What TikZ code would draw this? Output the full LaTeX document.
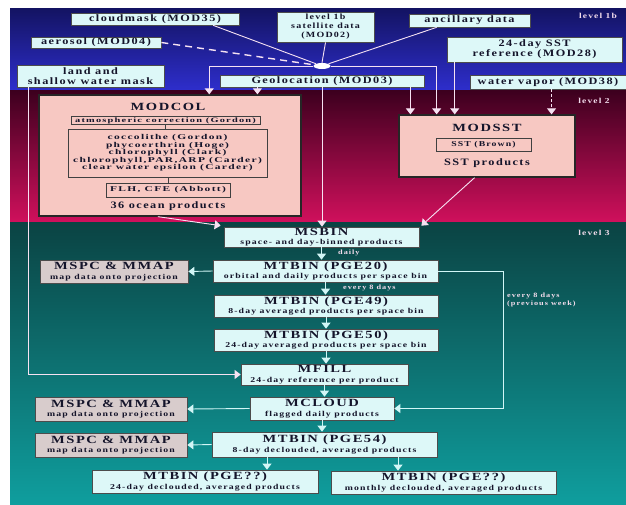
\documentclass[tikz,border=0pt]{standalone}
\usepackage{fontspec}
\setmainfont{Liberation Serif}
\newfontfamily\wideserif[FakeStretch=1.25, LetterSpace=15]{Liberation Serif}
\newfontfamily\titleserif[FakeStretch=1.32, LetterSpace=14]{Liberation Serif}
\newfontfamily\subserif[FakeStretch=1.3, LetterSpace=15]{Liberation Serif}
\newfontfamily\tinyserif[FakeStretch=1.55, LetterSpace=18]{Liberation Serif}
\usetikzlibrary{arrows.meta,calc,shapes.geometric}
\definecolor{cyanbox}{HTML}{DDF8F8}
\definecolor{pinkbox}{HTML}{F7C8C2}
\definecolor{graybox}{HTML}{D8CCCC}
\definecolor{navyT}{HTML}{131362}
\definecolor{navyB}{HTML}{2E2ECC}
\definecolor{marT}{HTML}{3C001E}
\definecolor{marB}{HTML}{D0105C}
\definecolor{tealT}{HTML}{0B4343}
\definecolor{tealB}{HTML}{0F9E9E}
\definecolor{linepink}{HTML}{F6E2F2}
\definecolor{linecyan}{HTML}{D2F6F6}
\definecolor{lvltext}{HTML}{F2DCEC}
\definecolor{boxtext}{HTML}{14142A}
\newcommand\mytitle{\titleserif\bfseries\fontsize{11}{11}\selectfont}
\newcommand\mysub{\subserif\bfseries\fontsize{7.5}{8.5}\selectfont}
\newcommand\mylvl{\wideserif\bfseries\fontsize{7.6}{8.5}\selectfont}
\newcommand\mylab{\wideserif\bfseries\fontsize{9.8}{10}\selectfont}
\newcommand\mysmall{\wideserif\bfseries\fontsize{8}{9}\selectfont}
\newcommand\mytiny{\tinyserif\bfseries\fontsize{7.4}{7.6}\selectfont}
\newcommand\myatm{\tinyserif\bfseries\fontsize{6.7}{7}\selectfont}
\newcommand\mylbl{\wideserif\bfseries\fontsize{6.6}{7.6}\selectfont}
\begin{document}
\begin{tikzpicture}[x=1pt,y=-1pt,
  cbox/.style={draw=black!70, line width=0.7pt, fill=cyanbox, inner sep=0pt, text=boxtext, align=center},
  gbox/.style={draw=black!70, line width=0.8pt, fill=graybox, inner sep=0pt, text=boxtext, align=center},
  pbox/.style={draw=black!85, line width=1.3pt, fill=pinkbox, inner sep=0pt},
  ibox/.style={draw=black!75, line width=0.6pt, inner sep=0pt, text=boxtext, align=center},
  lnP/.style={draw=linepink, line width=0.9pt},
  lnC/.style={draw=linecyan, line width=0.9pt},
  arr/.style={-{Triangle[width=9pt,length=6pt]}},
  lvl/.style={text=lvltext, font=\mylvl, inner sep=0pt},
  lbl/.style={text=lvltext, font=\mylbl, inner sep=0pt, align=left}]
\useasboundingbox (0,0) rectangle (626,504);
% background bands
\shade[top color=navyT, bottom color=navyB] (10,8) rectangle (626,90);
\shade[top color=marT, bottom color=marB] (10,90) rectangle (626,222);
\shade[top color=tealT, bottom color=tealB] (10,222) rectangle (626,504);
% level labels
\node[lvl] (lv1) at (598,16) {level 1b};
\node[lvl] (lv2) at (594,101) {level 2};
\node[lvl] (lv3) at (594,233) {level 3};
% level 1b inputs
\node[cbox, minimum width=168pt, minimum height=12pt, font=\mylab] (cloud) at (155,19) {cloudmask (MOD35)};
\node[cbox, minimum width=130pt, minimum height=11pt, font=\mylab] (aer) at (96,42.5) {aerosol (MOD04)};
\node[cbox, minimum width=97pt, minimum height=30pt, font=\mysmall] (l1b) at (325.5,27) {level 1b\\satellite data\\(MOD02)};
\node[cbox, minimum width=121pt, minimum height=13pt, font=\mylab] (anc) at (469.5,20.5) {ancillary data};
\node[cbox, minimum width=175pt, minimum height=25pt, font=\mylab] (sstref) at (534.5,49.5) {24-day SST\\reference (MOD28)};
\node[cbox, minimum width=147pt, minimum height=22pt, font=\mylab] (land) at (90.5,76) {land and\\shallow water mask};
\node[cbox, minimum width=204pt, minimum height=12pt, font=\mylab] (geo) at (322,81) {Geolocation (MOD03)};
\node[cbox, minimum width=156pt, minimum height=14pt, font=\mylab] (wv) at (548,82) {water vapor (MOD38)};
\node[ellipse, fill=white, minimum width=17pt, minimum height=6pt, inner sep=0pt] (junc) at (322,66) {};
% level 2 boxes
\node[pbox, minimum width=262pt, minimum height=121pt] (modcol) at (170,155.5) {};
\node[text=boxtext, font=\mytitle, inner sep=0pt] (modcolt) at (168,107) {MODCOL};
\node[ibox, minimum width=189pt, minimum height=8pt, font=\myatm] (atm) at (165.5,120.5) {atmospheric correction (Gordon)};
\node[ibox, minimum width=199pt, minimum height=48pt, font=\mytiny] (mid) at (167.5,153) {coccolithe (Gordon)\\phycoerthrin (Hoge)\\chlorophyll (Clark)\\chlorophyll,PAR,ARP (Carder)\\clear water epsilon (Carder)};
\node[ibox, minimum width=124pt, minimum height=14pt, font=\mytiny] (flh) at (168,190) {FLH, CFE (Abbott)};
\node[text=boxtext, font=\mylab, inner sep=0pt] (ocean) at (168,206) {36 ocean products};
\draw[black!75, line width=0.6pt] (atm.south) -- (atm.south |- mid.north);
\draw[black!75, line width=0.6pt] (flh.north |- mid.south) -- (flh.north);
\node[pbox, minimum width=176pt, minimum height=62pt] (modsst) at (487,146) {};
\node[text=boxtext, font=\mytitle, inner sep=0pt] (modsstt) at (487,128) {MODSST};
\node[ibox, minimum width=95pt, minimum height=13pt, font=\mysub] (sstb) at (483.5,144.5) {SST (Brown)};
\node[text=boxtext, font=\mylab, inner sep=0pt] (sstp) at (487,163) {SST products};
% level 3 boxes
\node[cbox, minimum width=195pt, minimum height=20pt] (msbin) at (321.5,237) {\mytitle MSBIN\\[-3pt]\mysub space- and day-binned products};
\node[cbox, minimum width=225pt, minimum height=22pt] (p20) at (325.5,271) {\mytitle MTBIN (PGE20)\\[-2.5pt]\mysub orbital and daily products per space bin};
\node[gbox, minimum width=148pt, minimum height=23pt] (mspc1) at (114,271.5) {\mytitle MSPC \& MMAP\\[-2.5pt]\mysub map data onto projection};
\node[cbox, minimum width=224pt, minimum height=22pt] (p49) at (326,306) {\mytitle MTBIN (PGE49)\\[-2.5pt]\mysub 8-day averaged products per space bin};
\node[cbox, minimum width=224pt, minimum height=22pt] (p50) at (326,340) {\mytitle MTBIN (PGE50)\\[-2.5pt]\mysub 24-day averaged products per space bin};
\node[cbox, minimum width=167pt, minimum height=21pt] (mfill) at (324.5,374.5) {\mytitle MFILL\\[-2.5pt]\mysub 24-day reference per product};
\node[cbox, minimum width=144pt, minimum height=23pt] (mcloud) at (322,408.5) {\mytitle MCLOUD\\[-2.5pt]\mysub flagged daily products};
\node[gbox, minimum width=152pt, minimum height=24pt] (mspc2) at (111,409) {\mytitle MSPC \& MMAP\\[-2.5pt]\mysub map data onto projection};
\node[cbox, minimum width=225pt, minimum height=25pt] (p54) at (324.5,444.5) {\mytitle MTBIN (PGE54)\\[-1.5pt]\mysub 8-day declouded, averaged products};
\node[gbox, minimum width=152pt, minimum height=24pt] (mspc3) at (111,445) {\mytitle MSPC \& MMAP\\[-2.5pt]\mysub map data onto projection};
\node[cbox, minimum width=226pt, minimum height=23pt] (pa) at (205,481.5) {\mytitle MTBIN (PGE??)\\[-2.5pt]\mysub 24-day declouded, averaged products};
\node[cbox, minimum width=225pt, minimum height=23pt] (pb) at (443.5,482.5) {\mytitle MTBIN (PGE??)\\[-2.5pt]\mysub monthly declouded, averaged products};
% helper coordinates on box edges
\coordinate (c1) at ($(cloud.south west)!0.845!(cloud.south east)$);
\coordinate (a1) at ($(anc.south west)!0.23!(anc.south east)$);
\coordinate (mc1) at ($(modcol.north west)!0.649!(modcol.north east)$);
\coordinate (mc2) at ($(modcol.north west)!0.832!(modcol.north east)$);
\coordinate (ms1) at ($(modsst.north west)!0.216!(modsst.north east)$);
\coordinate (ms2) at ($(modsst.north west)!0.068!(modsst.north east)$);
\coordinate (ms3) at ($(modsst.north west)!0.318!(modsst.north east)$);
\coordinate (ms4) at ($(modsst.north west)!0.864!(modsst.north east)$);
\coordinate (mcb) at ($(modcol.south west)!0.454!(modcol.south east)$);
\coordinate (msb) at ($(modsst.south west)!0.43!(modsst.south east)$);
\coordinate (lm) at ($(land.south west)!0.082!(land.south east)$);
\coordinate (loopx) at (503,0);
% level 1b / level 2 connectors
\draw[lnP] (c1) -- (junc);
\draw[lnP, line width=1.4pt, dash pattern=on 7pt off 5pt] (aer.east) -- (junc);
\draw[lnP] (l1b.south) -- (junc.north);
\draw[lnP] (a1) -- (junc);
\draw[lnP, arr] (junc.west) -| (mc1);
\draw[lnP, arr] (junc.east) -| (ms1);
\draw[lnP, arr] (mc2 |- geo.south) -- (mc2);
\draw[lnP, arr] (ms2 |- geo.south) -- (ms2);
\draw[lnP, arr] (geo.south) -- (geo.south |- msbin.north);
\draw[lnP, arr] (ms3 |- sstref.south) -- (ms3);
\draw[lnP, arr, dash pattern=on 3pt off 2pt] (ms4 |- wv.south) -- (ms4);
\draw[lnP, arr] (mcb) -- ($(msbin.north west)+(-3,-1)$);
\draw[lnP, arr] (msb) -- ($(msbin.north east)+(2,-1)$);
\draw[lnP, arr] (lm) |- (mfill.west);
% level 3 connectors
\draw[lnC, arr] (msbin.south) -- (msbin.south |- p20.north);
\draw[lnC, arr] (p20.south) -- (p20.south |- p49.north);
\draw[lnC, arr] (p49.south) -- (p49.south |- p50.north);
\draw[lnC, arr] (p50.south) -- (p50.south |- mfill.north);
\draw[lnC, arr] (mfill.south) -- (mfill.south |- mcloud.north);
\draw[lnC, arr] (mcloud.south) -- (mcloud.south |- p54.north);
\draw[lnC, arr] (p54.south -| pa.north) ++(62,0) coordinate (p54a) -- (p54a |- pa.north);
\draw[lnC, arr] (p54.south -| pb.north) ++(-45.5,0) coordinate (p54b) -- (p54b |- pb.north);
\draw[lnC, arr] (p20.west) -- (mspc1.east);
\draw[lnC, arr] (mcloud.west) -- (mspc2.east);
\draw[lnC, arr] (p54.west) -- (mspc3.east);
\draw[lnC, arr] (p20.east) -- (p20.east -| loopx) |- (mcloud.east);
% labels
\node[lbl, anchor=west] (daily) at (338,252.5) {daily};
\node[lbl, anchor=west] (e8) at (343,288) {every 8 days};
\node[lbl, anchor=north west] (e8p) at (507,293) {every 8 days\\(previous week)};
\end{tikzpicture}
\end{document}
